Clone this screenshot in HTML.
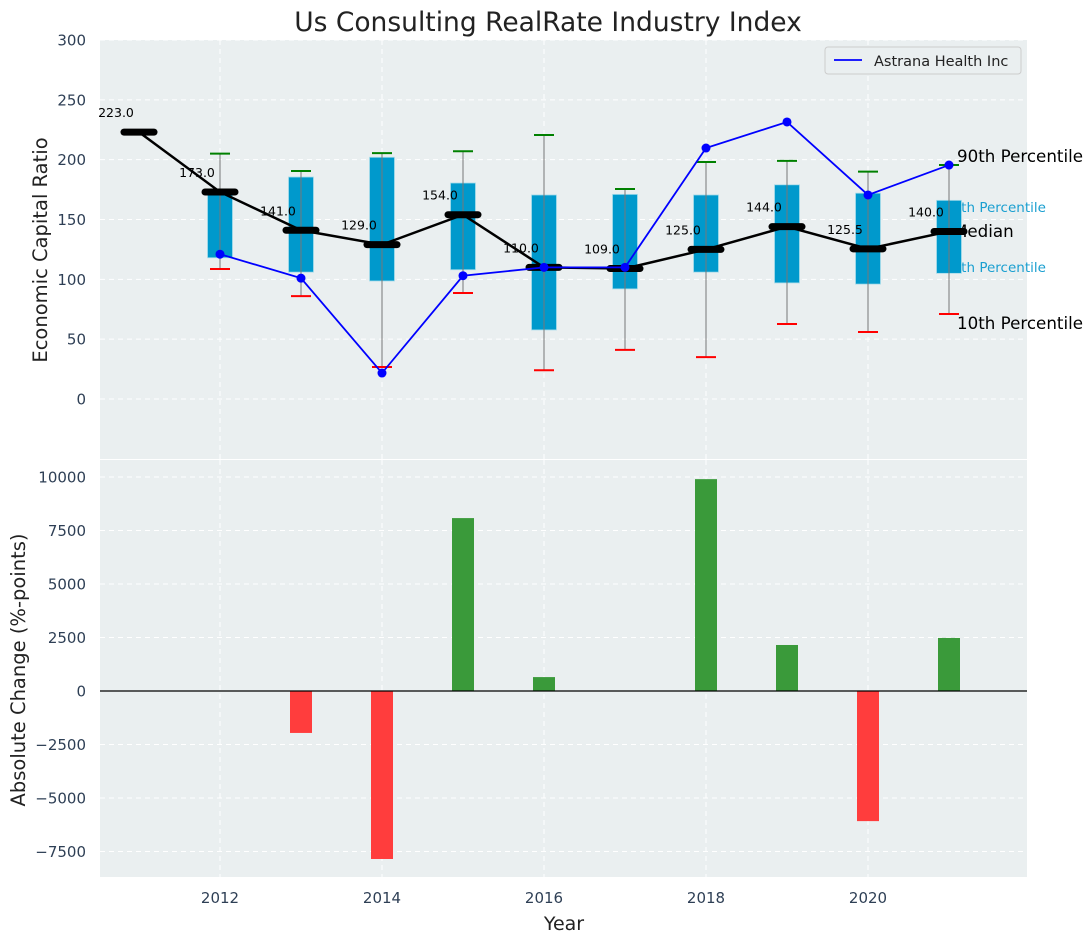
<!DOCTYPE html>
<html><head><meta charset="utf-8"><style>
body{margin:0;background:#fff;font-family:"Liberation Sans","DejaVu Sans",sans-serif}
svg text{font-family:"DejaVu Sans","Liberation Sans",sans-serif}
</style></head><body>
<svg id="c" width="1092" height="942"></svg>
<script>
const years=[2011,2012,2013,2014,2015,2016,2017,2018,2019,2020,2021];
const medians=[223,173,141,129,154,110,109,125,144,125.5,140];
const q75=[null,174,185.5,202,180.5,170.5,171,170.5,179,172,166];
const q25=[null,118,106,98.6,108,57.7,92,106,97,96,105];
const p90=[null,205,190.5,205.5,207,220.6,175.5,198,199,190,195.5];
const p10=[null,108.6,86,26.7,88.6,24,41,35,62.7,56,71];
const company=[null,121,101,21.7,103,110,110,209.7,231.5,170.5,195.5];
const changes=[0,0,-1960,-7850,8080,650,0,9900,2150,-6080,2480];
const topTicks=[0,50,100,150,200,250,300];
const botTicks=[-7500,-5000,-2500,0,2500,5000,7500,10000];
const xTicks=[2012,2014,2016,2018,2020];

const NS="http://www.w3.org/2000/svg",svg=document.getElementById('c');
function el(t,a,p){const e=document.createElementNS(NS,t);for(const k in a)e.setAttribute(k,a[k]);(p||svg).appendChild(e);return e;}
const X=v=>139+(v-2011)*81;
const YT=v=>399-v*1.1967;
const YB=v=>691-v*0.0214;
const L=100,R=1027;
const fmt=v=>v<0?'\u2212'+(-v):''+v;
let e=el('rect',{x:L,y:40,width:R-L,height:419,fill:'#eaeff0'});

e=el('rect',{x:L,y:460,width:R-L,height:417,fill:'#eaeff0'});

for(const t of topTicks){e=el('line',{x1:L,x2:R,y1:YT(t),y2:YT(t),stroke:'#fff','stroke-dasharray':'5,4','stroke-width':1});
 e=el('text',{x:86,y:YT(t)+5.5,'text-anchor':'end','font-size':15,fill:'#2e3f55'});e.textContent=fmt(t);}
for(const t of botTicks){e=el('line',{x1:L,x2:R,y1:YB(t),y2:YB(t),stroke:'#fff','stroke-dasharray':'5,4','stroke-width':1});
 e=el('text',{x:86,y:YB(t)+5.5,'text-anchor':'end','font-size':15,fill:'#2e3f55'});e.textContent=fmt(t);}
for(const t of xTicks){
 e=el('line',{x1:X(t),x2:X(t),y1:40,y2:459,stroke:'#fff','stroke-dasharray':'5,4'});
 e=el('line',{x1:X(t),x2:X(t),y1:460,y2:877,stroke:'#fff','stroke-dasharray':'5,4'});
 e=el('text',{x:X(t),y:903,'text-anchor':'middle','font-size':15,fill:'#2e3f55'});e.textContent=t;}
const rl=[['90th Percentile',957,162,16.7,'#000'],['75th Percentile',944,212,13.5,'#1a9fd0'],['Median',953,237,16.7,'#000'],['25th Percentile',944,272,13.5,'#1a9fd0'],['10th Percentile',957,329,16.7,'#000']];
for(const r of rl){e=el('text',{x:r[1],y:r[2],'font-size':r[3],fill:r[4]});e.textContent=r[0];}
years.forEach((y,i)=>{if(q75[i]==null)return;const x=X(y);
 e=el('rect',{x:x-12.5,y:YT(q75[i]),width:25,height:YT(q25[i])-YT(q75[i]),fill:'#0099cc',stroke:'#a8dcea','stroke-width':0.8});
 e=el('line',{x1:x,x2:x,y1:YT(p90[i]),y2:YT(p10[i]),stroke:'#777','stroke-width':1});
 e=el('line',{x1:x-10,x2:x+10,y1:YT(p90[i]),y2:YT(p90[i]),stroke:'green','stroke-width':2});
 e=el('line',{x1:x-10,x2:x+10,y1:YT(p10[i]),y2:YT(p10[i]),stroke:'red','stroke-width':2});});
e=el('polyline',{points:years.map((y,i)=>X(y)+','+YT(medians[i])).join(' '),fill:'none',stroke:'#000','stroke-width':2.5});
years.forEach((y,i)=>{const x=X(y);
 e=el('line',{x1:x-15,x2:x+15,y1:YT(medians[i]),y2:YT(medians[i]),stroke:'#000','stroke-width':7,'stroke-linecap':'round'});
 e=el('text',{x:x-23,y:YT(medians[i])-15,'text-anchor':'middle','font-size':12.5,fill:'#000'});e.textContent=medians[i].toFixed(1);});
const cp=years.map((y,i)=>company[i]==null?null:X(y)+','+YT(company[i])).filter(Boolean);
e=el('polyline',{points:cp.join(' '),fill:'none',stroke:'blue','stroke-width':1.8});
years.forEach((y,i)=>{if(company[i]==null)return;e=el('circle',{cx:X(y),cy:YT(company[i]),r:4.5,fill:'blue'});});
years.forEach((y,i)=>{if(!changes[i])return;const v=changes[i];
 e=el('rect',{x:X(y)-11,y:Math.min(YB(0),YB(v)),width:22,height:Math.abs(YB(v)-YB(0)),fill:v>0?'#3a9a3a':'#ff3d3d'});});
e=el('line',{x1:L,x2:R,y1:YB(0),y2:YB(0),stroke:'#000','stroke-width':1.2});
e=el('rect',{x:825,y:47,width:196,height:27,fill:'#eaeff0',stroke:'#ccc',rx:3});
e=el('line',{x1:834,x2:862,y1:60,y2:60,stroke:'blue','stroke-width':1.8});
e=el('text',{x:874,y:66,'font-size':14.5,fill:'#222'});e.textContent='Astrana Health Inc';
e=el('text',{x:548,y:31,'text-anchor':'middle','font-size':26.5,fill:'#222'});e.textContent='Us Consulting RealRate Industry Index';
e=el('text',{x:564,y:930,'text-anchor':'middle','font-size':19,fill:'#222'});e.textContent='Year';
e=el('text',{x:0,y:0,'text-anchor':'middle','font-size':19.5,fill:'#222',transform:'translate(47,250) rotate(-90)'});e.textContent='Economic Capital Ratio';
e=el('text',{x:0,y:0,'text-anchor':'middle','font-size':19.5,fill:'#222',transform:'translate(25,670) rotate(-90)'});e.textContent='Absolute Change (%-points)';
</script>
</body></html>
